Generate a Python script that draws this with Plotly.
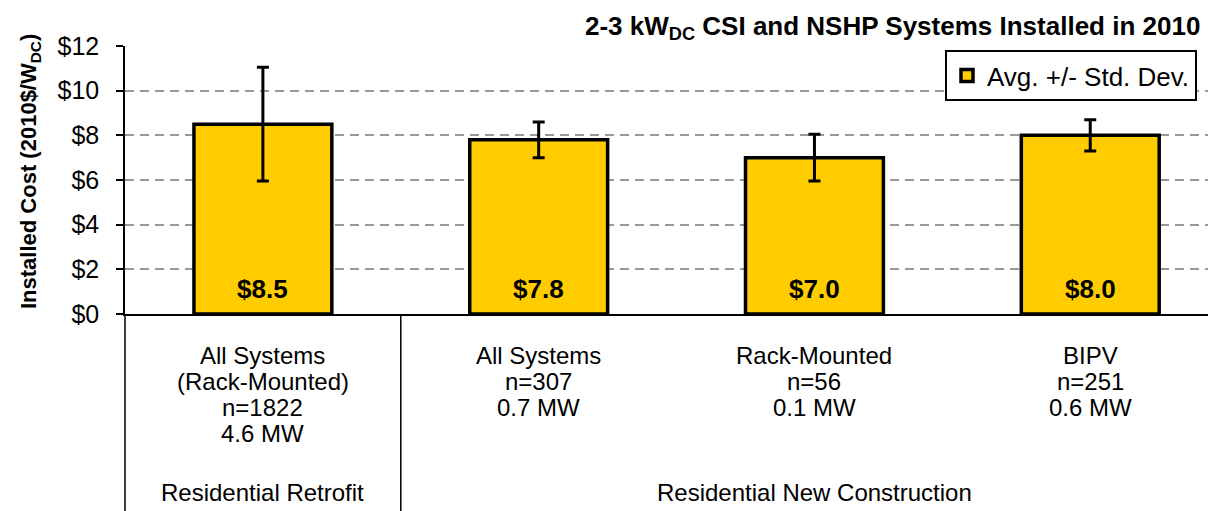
import plotly.graph_objects as go

# Données
cat_lines = [
    ["All Systems", "(Rack-Mounted)", "n=1822", "4.6 MW"],
    ["All Systems", "n=307", "0.7 MW"],
    ["Rack-Mounted", "n=56", "0.1 MW"],
    ["BIPV", "n=251", "0.6 MW"],
]
avg_cost = [8.5, 7.8, 7.0, 8.0]
std_dev = [2.55, 0.8, 1.05, 0.7]
value_labels = ["$8.5", "$7.8", "$7.0", "$8.0"]
groups = ["Residential Retrofit", "Residential New Construction"]
group_centers = [0, 2]
y_ticks = [0, 2, 4, 6, 8, 10, 12]

FONT = "Liberation Sans, Arial, sans-serif"
# la page HTML ajoute une marge de 8 px autour de la figure
OFF = 8
W, H = 1216 - OFF, 511 - OFF
M_L, M_R, M_T, M_B = 125 - OFF, 0, 46 - OFF, 197
PLOT_H = H - M_T - M_B
PLOT_W = W - M_L - M_R


def py_to_paper(py):
    """Position pixel de la page (depuis le haut) -> coordonnée paper."""
    return (H - M_B - (py - OFF)) / PLOT_H


def px_to_paper(px):
    return (px - OFF - M_L) / PLOT_W


fig = go.Figure()
fig.add_trace(go.Bar(
    x=list(range(len(avg_cost))),
    y=avg_cost,
    width=0.5,
    name="Avg. +/- Std. Dev.",
    marker=dict(color="#FFCC00", line=dict(color="black", width=3.5)),
    error_y=dict(type="data", array=std_dev, visible=True,
                 color="black", thickness=3, width=6),
    hoverinfo="y",
))

annotations = []
# valeurs dans les barres
for i, lab in enumerate(value_labels):
    annotations.append(dict(
        x=i, y=0, xref="x", yref="y", yshift=25, yanchor="middle",
        text=f"<b>{lab}</b>", showarrow=False,
        font=dict(family=FONT, size=26, color="black"),
    ))

# libellés de catégories (une ligne par annotation)
for i, lines in enumerate(cat_lines):
    for j, line in enumerate(lines):
        annotations.append(dict(
            x=i, xref="x", y=py_to_paper(355 + 26.3 * j), yref="paper",
            yanchor="middle", text=line, showarrow=False,
            font=dict(family=FONT, size=24, color="black"),
        ))

for name, c in zip(groups, group_centers):
    annotations.append(dict(
        x=c, xref="x", y=py_to_paper(493), yref="paper", yanchor="middle",
        text=name, showarrow=False,
        font=dict(family=FONT, size=24, color="black"),
    ))

annotations.append(dict(
    x=px_to_paper(1202), xref="paper", xanchor="right",
    y=py_to_paper(28), yref="paper", yanchor="middle",
    text="<b>2-3 kW<sub>DC</sub> CSI and NSHP Systems Installed in 2010</b>",
    showarrow=False, font=dict(family=FONT, size=26, color="black"),
))
annotations.append(dict(
    x=px_to_paper(30), xref="paper", xanchor="center",
    y=py_to_paper(172), yref="paper", yanchor="middle", textangle=-90,
    text="<b>Installed Cost (2010$/W<sub>DC</sub>)</b>",
    showarrow=False, font=dict(family=FONT, size=22, color="black"),
))

shapes = [
    dict(type="line", xref="paper", yref="paper", x0=0, x1=0,
         y0=0, y1=py_to_paper(515), line=dict(color="black", width=1.5)),
    dict(type="line", xref="x", yref="paper", x0=0.5, x1=0.5,
         y0=0, y1=py_to_paper(515), line=dict(color="black", width=1.5)),
]

fig.update_layout(
    width=W, height=H,
    margin=dict(l=M_L, r=M_R, t=M_T, b=M_B, autoexpand=False),
    paper_bgcolor="white", plot_bgcolor="white",
    font=dict(family=FONT, color="black", size=24),
    showlegend=True,
    legend=dict(
        x=px_to_paper(1197), xanchor="right",
        y=py_to_paper(50), yanchor="top",
        bordercolor="black", borderwidth=2, bgcolor="white",
        font=dict(family=FONT, size=26, color="black"),
        itemwidth=30,
    ),
    annotations=annotations,
    shapes=shapes,
)
fig.update_xaxes(
    range=[-0.5, 3.456], showticklabels=False, ticks="",
    showgrid=False, zeroline=False, automargin=False,
    showline=True, linecolor="black", linewidth=1.5,
)
fig.update_yaxes(
    range=[0, 12], tickvals=y_ticks,
    ticktext=[f"${v}" for v in y_ticks],
    tickfont=dict(family=FONT, size=25, color="black"),
    ticks="outside", ticklen=7, tickwidth=1.5, tickcolor="black",
    ticklabelstandoff=12, automargin=False,
    showline=True, linecolor="black", linewidth=1.5,
    showgrid=True, gridcolor="#999999", gridwidth=2, griddash="9px,6px",
    zeroline=False,
)

fig.write_html("out.html")
